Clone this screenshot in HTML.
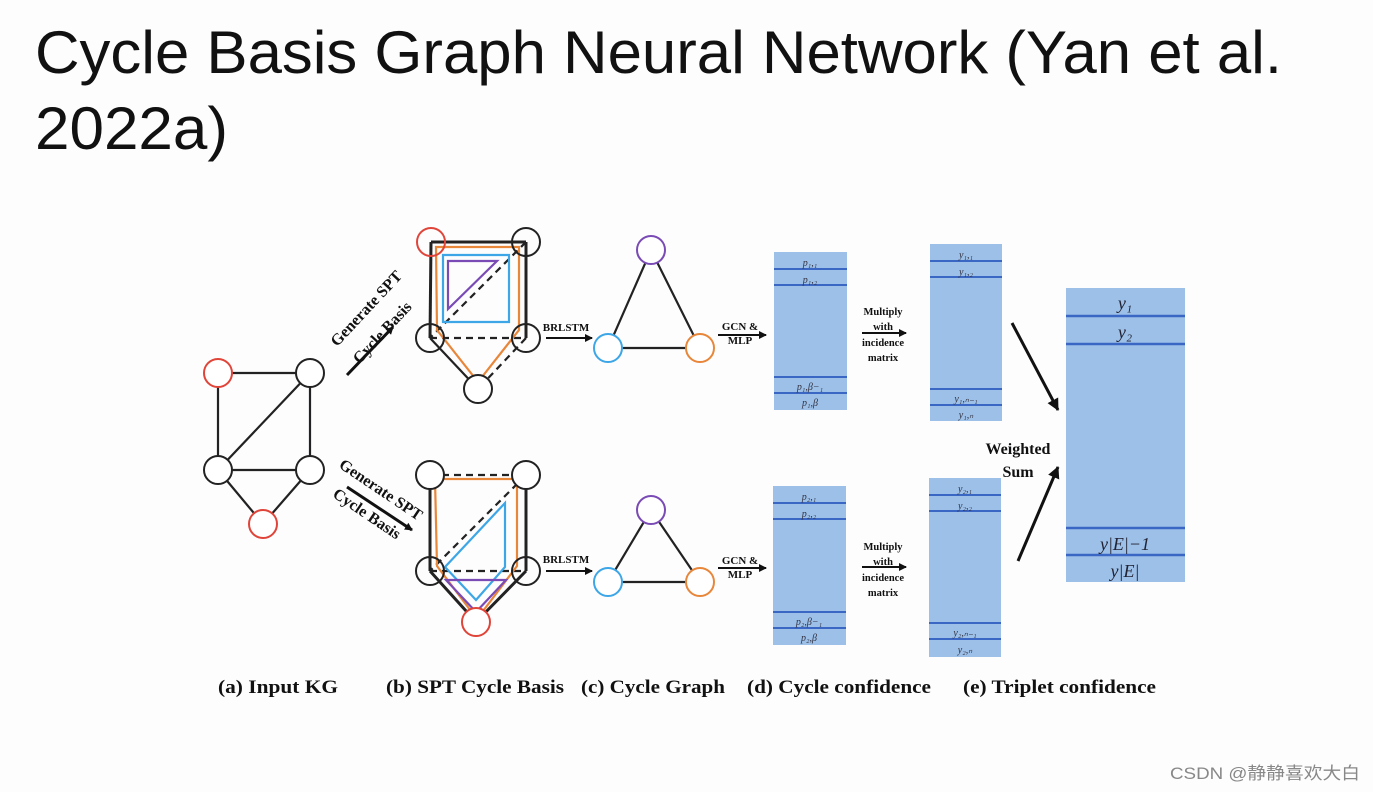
<!DOCTYPE html>
<html><head><meta charset="utf-8"><style>
html,body{margin:0;padding:0;background:#fff;}
svg{display:block;}
</style></head><body>
<svg width="1373" height="792" viewBox="0 0 1373 792" xmlns="http://www.w3.org/2000/svg">
<defs>
<marker id="ah" markerWidth="8" markerHeight="8" refX="7" refY="4" orient="auto" markerUnits="userSpaceOnUse"><path d="M0,0 L8,4 L0,8 z" fill="#111"/></marker>
<marker id="ah2" markerWidth="12" markerHeight="12" refX="11" refY="6" orient="auto" markerUnits="userSpaceOnUse"><path d="M0,0 L12,6 L0,12 z" fill="#111"/></marker>
</defs>
<rect width="1373" height="792" fill="#fdfdfe"/>
<g font-family="Liberation Sans, sans-serif" fill="#111">
<text x="35" y="73" font-size="60" textLength="1247" lengthAdjust="spacingAndGlyphs">Cycle Basis Graph Neural Network (Yan et al.</text>
<text x="35" y="149" font-size="60" textLength="193" lengthAdjust="spacingAndGlyphs">2022a)</text>
</g>
<text x="1170" y="779" font-family="Liberation Sans, 'Noto Sans CJK SC', sans-serif" font-size="17" fill="#888" textLength="190" lengthAdjust="spacingAndGlyphs">CSDN @静静喜欢大白</text>

<g stroke="#222" stroke-width="2.2" fill="none">
<!-- input KG -->
<line x1="218" y1="373" x2="310" y2="373"/><line x1="218" y1="373" x2="218" y2="470"/>
<line x1="310" y1="373" x2="310" y2="470"/><line x1="310" y1="373" x2="218" y2="470"/>
<line x1="218" y1="470" x2="310" y2="470"/><line x1="218" y1="470" x2="263" y2="524"/><line x1="310" y1="470" x2="263" y2="524"/>
<!-- upper SPT -->
<line x1="431" y1="242" x2="526" y2="242" stroke-width="3"/><line x1="431" y1="242" x2="430" y2="338" stroke-width="3"/>
<line x1="526" y1="242" x2="526" y2="338" stroke-width="3"/><line x1="430" y1="338" x2="478" y2="389"/>
<line x1="526" y1="338" x2="478" y2="389" stroke-dasharray="7,5"/><line x1="430" y1="338" x2="526" y2="338" stroke-dasharray="7,5"/>
<line x1="526" y1="242" x2="430" y2="338" stroke-dasharray="7,5"/>
<!-- lower SPT -->
<line x1="430" y1="475" x2="526" y2="475" stroke-dasharray="7,5"/><line x1="430" y1="475" x2="430" y2="571" stroke-width="3"/>
<line x1="526" y1="475" x2="526" y2="571" stroke-width="3"/><line x1="526" y1="475" x2="430" y2="571" stroke-dasharray="7,5"/>
<line x1="430" y1="571" x2="526" y2="571" stroke-dasharray="7,5"/><line x1="430" y1="571" x2="476" y2="622" stroke-width="3"/>
<line x1="526" y1="571" x2="476" y2="622" stroke-width="3"/>
<!-- cycle graphs -->
<polygon points="651,250 608,348 700,348"/><polygon points="651,510 608,582 700,582"/>
</g>
<g fill="none" stroke-width="2.2">
<polygon points="436,247 519,247 519,330 478,382 437,330" stroke="#e8863a"/>
<polygon points="443,255 509,255 509,322 443,322" stroke="#3da6e6"/>
<polygon points="448,261 497,261 448,309" stroke="#7a4bb5"/>
<polygon points="435,479 517,479 517,566 477,619 437,566" stroke="#e8863a"/>
<polygon points="445,567 505,503 505,567 476,600" stroke="#3da6e6"/>
<polygon points="446,580 506,580 476,612" stroke="#7a4bb5"/>
</g>
<g stroke-width="2" fill="#fff">
<circle cx="218" cy="373" r="14" stroke="#e0453a"/><circle cx="310" cy="373" r="14" stroke="#222"/>
<circle cx="218" cy="470" r="14" stroke="#222"/><circle cx="310" cy="470" r="14" stroke="#222"/>
<circle cx="263" cy="524" r="14" stroke="#e0453a"/>
</g>
<g stroke-width="2" fill="none">
<circle cx="431" cy="242" r="14" stroke="#e0453a"/><circle cx="526" cy="242" r="14" stroke="#222"/>
<circle cx="430" cy="338" r="14" stroke="#222"/><circle cx="526" cy="338" r="14" stroke="#222"/>
<circle cx="478" cy="389" r="14" stroke="#222" fill="#fff"/>
<circle cx="430" cy="475" r="14" stroke="#222" fill="#fff"/><circle cx="526" cy="475" r="14" stroke="#222" fill="#fff"/>
<circle cx="430" cy="571" r="14" stroke="#222"/><circle cx="526" cy="571" r="14" stroke="#222"/>
<circle cx="476" cy="622" r="14" stroke="#e0453a" fill="#fff"/>
<circle cx="651" cy="250" r="14" stroke="#7a4bb5" fill="#fff"/><circle cx="608" cy="348" r="14" stroke="#3da6e6" fill="#fff"/><circle cx="700" cy="348" r="14" stroke="#e8863a" fill="#fff"/>
<circle cx="651" cy="510" r="14" stroke="#7a4bb5" fill="#fff"/><circle cx="608" cy="582" r="14" stroke="#3da6e6" fill="#fff"/><circle cx="700" cy="582" r="14" stroke="#e8863a" fill="#fff"/>
</g>

<g stroke="#111" stroke-width="2">
<line x1="347" y1="375" x2="393" y2="327" marker-end="url(#ah)" stroke-width="3"/>
<line x1="347" y1="487" x2="412" y2="530" marker-end="url(#ah)" stroke-width="3"/>
<line x1="546" y1="338" x2="592" y2="338" marker-end="url(#ah)"/>
<line x1="546" y1="571" x2="592" y2="571" marker-end="url(#ah)"/>
<line x1="718" y1="335" x2="766" y2="335" marker-end="url(#ah)"/>
<line x1="718" y1="568" x2="766" y2="568" marker-end="url(#ah)"/>
<line x1="862" y1="333" x2="906" y2="333" marker-end="url(#ah)"/>
<line x1="862" y1="567" x2="906" y2="567" marker-end="url(#ah)"/>
<line x1="1012" y1="323" x2="1058" y2="410" marker-end="url(#ah2)" stroke-width="3"/>
<line x1="1018" y1="561" x2="1058" y2="467" marker-end="url(#ah2)" stroke-width="3"/>
</g>

<g font-family="Liberation Serif, serif" font-weight="bold" fill="#111">
<text transform="translate(370,312) rotate(-47)" font-size="16" text-anchor="middle">Generate SPT</text>
<text transform="translate(386,336) rotate(-47)" font-size="16" text-anchor="middle">Cycle Basis</text>
<text transform="translate(378,494) rotate(34)" font-size="16" text-anchor="middle">Generate SPT</text>
<text transform="translate(364,518) rotate(34)" font-size="16" text-anchor="middle">Cycle Basis</text>
<text x="566" y="331" font-size="11" text-anchor="middle">BRLSTM</text>
<text x="566" y="563" font-size="11" text-anchor="middle">BRLSTM</text>
<g font-size="11" text-anchor="middle">
<text x="740" y="330">GCN &amp;</text><text x="740" y="344">MLP</text>
<text x="740" y="564">GCN &amp;</text><text x="740" y="578">MLP</text>
</g>
<g font-size="10.5" text-anchor="middle">
<text x="883" y="315">Multiply</text><text x="883" y="330">with</text><text x="883" y="346">incidence</text><text x="883" y="361">matrix</text>
<text x="883" y="550">Multiply</text><text x="883" y="565">with</text><text x="883" y="581">incidence</text><text x="883" y="596">matrix</text>
</g>
<text x="1018" y="454" font-size="16" text-anchor="middle">Weighted</text>
<text x="1018" y="477" font-size="16" text-anchor="middle">Sum</text>
<g font-size="19">
<text x="218" y="693" textLength="120" lengthAdjust="spacingAndGlyphs">(a) Input KG</text>
<text x="386" y="693" textLength="178" lengthAdjust="spacingAndGlyphs">(b) SPT Cycle Basis</text>
<text x="581" y="693" textLength="144" lengthAdjust="spacingAndGlyphs">(c) Cycle Graph</text>
<text x="747" y="693" textLength="184" lengthAdjust="spacingAndGlyphs">(d) Cycle confidence</text>
<text x="963" y="693" textLength="193" lengthAdjust="spacingAndGlyphs">(e) Triplet confidence</text>
</g>
</g>

<g fill="#9cc0e8">
<rect x="774" y="252" width="73" height="158"/><rect x="773" y="486" width="73" height="159"/>
<rect x="930" y="244" width="72" height="177"/><rect x="929" y="478" width="72" height="179"/>
<rect x="1066" y="288" width="119" height="294"/>
</g>
<g stroke="#3a66c4" stroke-width="2">
<line x1="774" y1="269" x2="847" y2="269"/><line x1="774" y1="285" x2="847" y2="285"/><line x1="774" y1="377" x2="847" y2="377"/><line x1="774" y1="393" x2="847" y2="393"/>
<line x1="773" y1="503" x2="846" y2="503"/><line x1="773" y1="519" x2="846" y2="519"/><line x1="773" y1="612" x2="846" y2="612"/><line x1="773" y1="628" x2="846" y2="628"/>
<line x1="930" y1="261" x2="1002" y2="261"/><line x1="930" y1="277" x2="1002" y2="277"/><line x1="930" y1="389" x2="1002" y2="389"/><line x1="930" y1="405" x2="1002" y2="405"/>
<line x1="929" y1="495" x2="1001" y2="495"/><line x1="929" y1="511" x2="1001" y2="511"/><line x1="929" y1="623" x2="1001" y2="623"/><line x1="929" y1="639" x2="1001" y2="639"/>
<line x1="1066" y1="316" x2="1185" y2="316" stroke-width="2.5"/><line x1="1066" y1="344" x2="1185" y2="344" stroke-width="2.5"/>
<line x1="1066" y1="528" x2="1185" y2="528" stroke-width="2.5"/><line x1="1066" y1="555" x2="1185" y2="555" stroke-width="2.5"/>
</g>
<g font-family="Liberation Serif, serif" font-style="italic" fill="#334" text-anchor="middle" font-size="10">
<text x="810" y="266">p₁,₁</text><text x="810" y="283">p₁,₂</text><text x="810" y="390">p₁,β−₁</text><text x="810" y="406">p₁,β</text>
<text x="809" y="500">p₂,₁</text><text x="809" y="517">p₂,₂</text><text x="809" y="625">p₂,β−₁</text><text x="809" y="641">p₂,β</text>
<text x="966" y="258">y₁,₁</text><text x="966" y="275">y₁,₂</text><text x="966" y="402">y₁,ₙ₋₁</text><text x="966" y="418">y₁,ₙ</text>
<text x="965" y="492">y₂,₁</text><text x="965" y="509">y₂,₂</text><text x="965" y="636">y₂,ₙ₋₁</text><text x="965" y="653">y₂,ₙ</text>
<g font-size="18" fill="#223">
<text x="1125" y="309">y₁</text><text x="1125" y="338">y₂</text>
<text x="1125" y="550">y|E|−1</text><text x="1125" y="577">y|E|</text>
</g>
</g>
</svg>
</body></html>
